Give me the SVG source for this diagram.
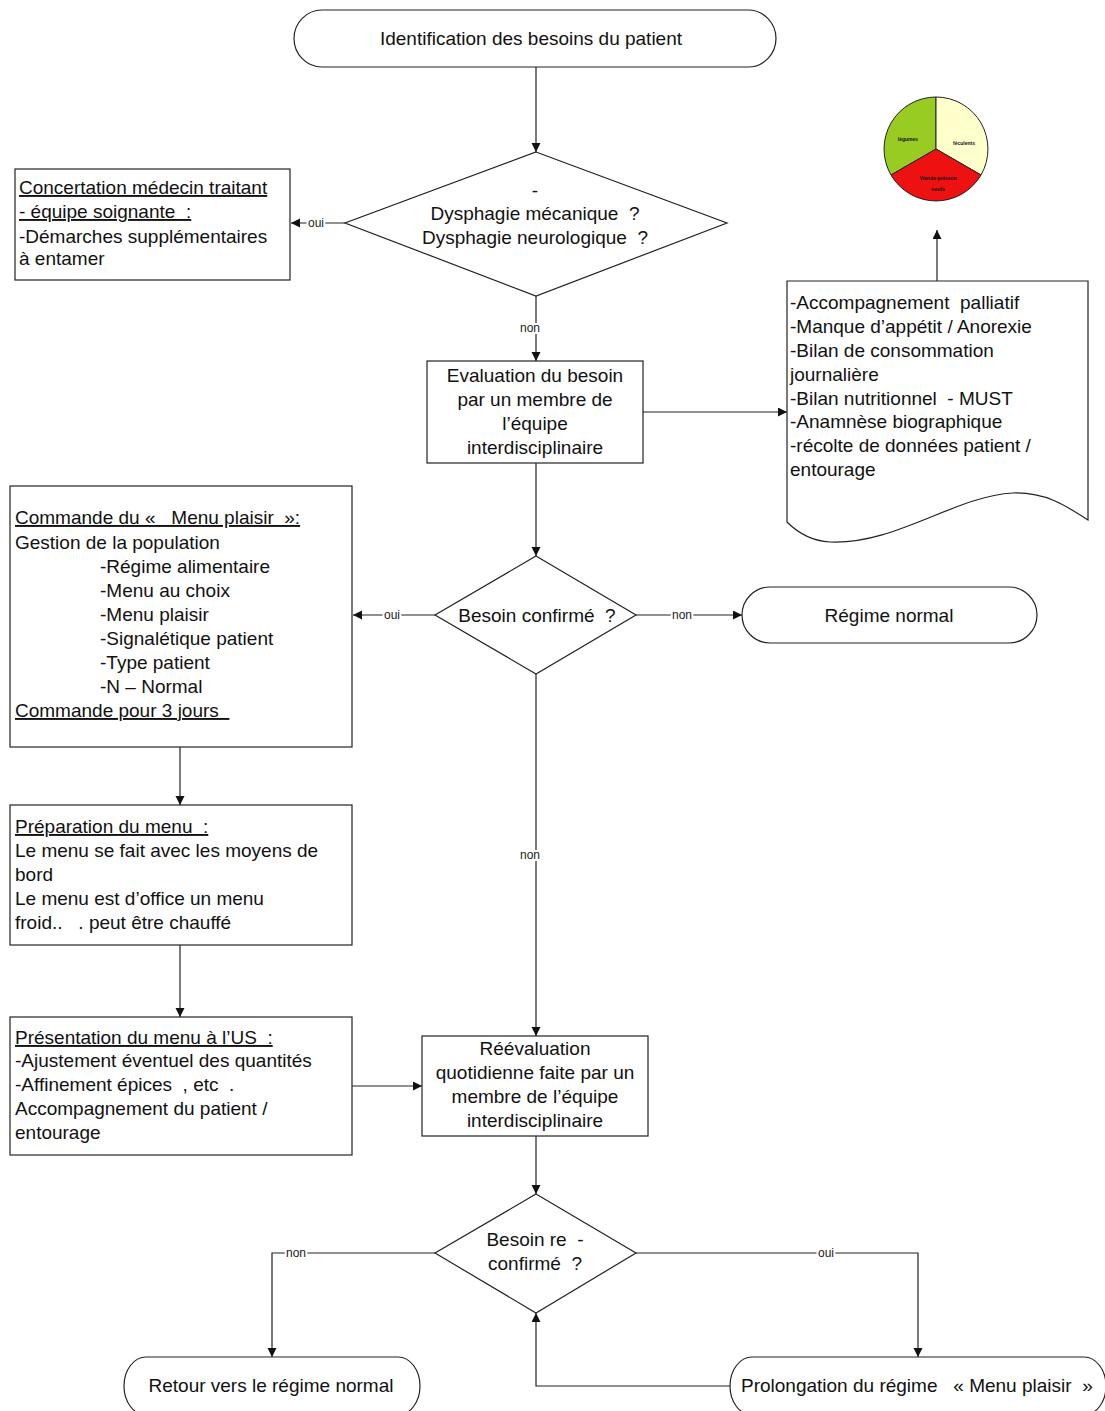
<svg xmlns="http://www.w3.org/2000/svg" width="1105" height="1411" viewBox="0 0 1105 1411" xml:space="preserve">
<defs>
<style>
.t{font-family:"Liberation Sans",Arial,sans-serif;font-size:19px;fill:#111;white-space:pre}
.c{text-anchor:middle}
.u{text-decoration:underline}
.lb{font-family:"Liberation Sans",Arial,sans-serif;font-size:12px;fill:#222;text-anchor:middle;paint-order:stroke;stroke:#fff;stroke-width:4px}
.sh{fill:#fff;stroke:#222;stroke-width:1.2}
.ln{fill:none;stroke:#222;stroke-width:1.2}
.pt{font-family:"Liberation Sans",Arial,sans-serif;font-size:5px;font-weight:bold;fill:#111;text-anchor:middle}
</style>
<marker id="ah" markerWidth="10" markerHeight="10" refX="9" refY="4.5" orient="auto" markerUnits="userSpaceOnUse">
<path d="M0,0 L9,4.5 L0,9 z" fill="#111"/>
</marker>
</defs>
<rect width="1105" height="1411" fill="#fff"/>

<g id="connectors">
<line class="ln" x1="536" y1="67" x2="536" y2="152" marker-end="url(#ah)"/>
<line class="ln" x1="345" y1="223" x2="291" y2="223" marker-end="url(#ah)"/>
<line class="ln" x1="536" y1="296" x2="536" y2="361" marker-end="url(#ah)"/>
<line class="ln" x1="643" y1="412" x2="787" y2="412" marker-end="url(#ah)"/>
<line class="ln" x1="937" y1="281" x2="937" y2="230" marker-end="url(#ah)"/>
<line class="ln" x1="536" y1="463" x2="536" y2="556" marker-end="url(#ah)"/>
<line class="ln" x1="435" y1="615" x2="353" y2="615" marker-end="url(#ah)"/>
<line class="ln" x1="636" y1="615" x2="742" y2="615" marker-end="url(#ah)"/>
<line class="ln" x1="180" y1="747" x2="180" y2="805" marker-end="url(#ah)"/>
<line class="ln" x1="180" y1="945" x2="180" y2="1017" marker-end="url(#ah)"/>
<line class="ln" x1="352" y1="1086" x2="422" y2="1086" marker-end="url(#ah)"/>
<line class="ln" x1="536" y1="674" x2="536" y2="1036" marker-end="url(#ah)"/>
<line class="ln" x1="536" y1="1136" x2="536" y2="1194" marker-end="url(#ah)"/>
<polyline class="ln" points="435,1253 272,1253 272,1357" marker-end="url(#ah)"/>
<polyline class="ln" points="636,1253 918,1253 918,1357" marker-end="url(#ah)"/>
<polyline class="ln" points="730,1386 536,1386 536,1313" marker-end="url(#ah)"/>
<text class="lb" x="316" y="227">oui</text>
<text class="lb" x="530" y="332">non</text>
<text class="lb" x="392" y="619">oui</text>
<text class="lb" x="682" y="619">non</text>
<text class="lb" x="530" y="859">non</text>
<text class="lb" x="296" y="1257">non</text>
<text class="lb" x="826" y="1257">oui</text>
</g>

<g id="start">
<path class="sh" d="M322,10 H748 A28,28.5 0 0 1 748,67 H322 A28,28.5 0 0 1 322,10 Z"/>
<text class="t c" x="531" y="45">Identification des besoins du patient</text>
</g>

<g id="dysphagie">
<polygon class="sh" points="536,152 727,223 536,296 345,223"/>
<text class="t c" x="535" y="197">-</text>
<text class="t c" x="535" y="220">Dysphagie mécanique  ?</text>
<text class="t c" x="535" y="244">Dysphagie neurologique  ?</text>
</g>

<g id="concertation">
<rect class="sh" x="15" y="169" width="275" height="111"/>
<text class="t u" x="19" y="194">Concertation médecin traitant</text>
<text class="t u" x="19" y="218">- équipe soignante  :</text>
<text class="t" x="19" y="243">-Démarches supplémentaires</text>
<text class="t" x="19" y="265">à entamer</text>
</g>

<g id="evaluation">
<rect class="sh" x="427" y="361" width="216" height="102"/>
<text class="t c" x="535" y="382">Evaluation du besoin</text>
<text class="t c" x="535" y="406">par un membre de</text>
<text class="t c" x="535" y="430">l’équipe</text>
<text class="t c" x="535" y="454">interdisciplinaire</text>
</g>

<g id="document">
<path class="sh" d="M787,281 H1088 V520 C1065,505 1045,492 1013,493 C955,496 895,545 830,542 C812,541 797,532 787,522 Z"/>
<text class="t" x="790" y="309">-Accompagnement  palliatif</text>
<text class="t" x="790" y="333">-Manque d’appétit / Anorexie</text>
<text class="t" x="790" y="357">-Bilan de consommation</text>
<text class="t" x="790" y="381">journalière</text>
<text class="t" x="790" y="405">-Bilan nutritionnel  - MUST</text>
<text class="t" x="790" y="428">-Anamnèse biographique</text>
<text class="t" x="790" y="452">-récolte de données patient /</text>
<text class="t" x="790" y="476">entourage</text>
</g>

<g id="pie">
<path d="M936,149 L936,97 A52,52 0 0 0 891,175 Z" fill="#99cc22" stroke="#222" stroke-width="1"/>
<path d="M936,149 L936,97 A52,52 0 0 1 981,175 Z" fill="#ffffcc" stroke="#222" stroke-width="1"/>
<path d="M936,149 L981,175 A52,52 0 0 1 891,175 Z" fill="#ee1111" stroke="#222" stroke-width="1"/>
<text class="pt" x="908" y="141">légumes</text>
<text class="pt" x="964" y="145">féculents</text>
<text class="pt" x="938" y="180">Viande-poisson</text>
<text class="pt" x="938" y="191">oeufs</text>
</g>

<g id="besoin-confirme">
<polygon class="sh" points="536,556 636,615 536,674 435,615"/>
<text class="t c" x="537" y="622">Besoin confirmé  ?</text>
</g>

<g id="regime-normal">
<path class="sh" d="M770,587 H1009 A28,28 0 0 1 1009,643 H770 A28,28 0 0 1 770,587 Z"/>
<text class="t c" x="889" y="622">Régime normal</text>
</g>

<g id="commande">
<rect class="sh" x="10" y="486" width="342" height="261"/>
<text class="t u" x="15" y="524">Commande du «   Menu plaisir  »:</text>
<text class="t" x="15" y="549">Gestion de la population</text>
<text class="t" x="100" y="573">-Régime alimentaire</text>
<text class="t" x="100" y="597">-Menu au choix</text>
<text class="t" x="100" y="621">-Menu plaisir</text>
<text class="t" x="100" y="645">-Signalétique patient</text>
<text class="t" x="100" y="669">-Type patient</text>
<text class="t" x="100" y="693">-N – Normal</text>
<text class="t u" x="15" y="717">Commande pour 3 jours  </text>
</g>

<g id="preparation">
<rect class="sh" x="10" y="805" width="342" height="140"/>
<text class="t u" x="15" y="833">Préparation du menu  :</text>
<text class="t" x="15" y="857">Le menu se fait avec les moyens de</text>
<text class="t" x="15" y="881">bord</text>
<text class="t" x="15" y="905">Le menu est d’office un menu</text>
<text class="t" x="15" y="929">froid..   . peut être chauffé</text>
</g>

<g id="presentation">
<rect class="sh" x="10" y="1017" width="342" height="138"/>
<text class="t u" x="15" y="1044">Présentation du menu à l’US  :</text>
<text class="t" x="15" y="1067">-Ajustement éventuel des quantités</text>
<text class="t" x="15" y="1091">-Affinement épices  , etc  .</text>
<text class="t" x="15" y="1115">Accompagnement du patient /</text>
<text class="t" x="15" y="1139">entourage</text>
</g>

<g id="reevaluation">
<rect class="sh" x="422" y="1036" width="226" height="100"/>
<text class="t c" x="535" y="1055">Réévaluation</text>
<text class="t c" x="535" y="1079">quotidienne faite par un</text>
<text class="t c" x="535" y="1103">membre de l’équipe</text>
<text class="t c" x="535" y="1127">interdisciplinaire</text>
</g>

<g id="besoin-reconfirme">
<polygon class="sh" points="536,1194 636,1253 536,1313 435,1253"/>
<text class="t c" x="535" y="1246">Besoin re  -</text>
<text class="t c" x="535" y="1270">confirmé  ?</text>
</g>

<g id="retour">
<path class="sh" d="M146,1357 H398 A22,29 0 0 1 398,1415 H146 A22,29 0 0 1 146,1357 Z"/>
<text class="t c" x="271" y="1392">Retour vers le régime normal</text>
</g>

<g id="prolongation">
<path class="sh" d="M752,1357 H1084 A22,29 0 0 1 1084,1415 H752 A22,29 0 0 1 752,1357 Z"/>
<text class="t" x="741" y="1392">Prolongation du régime   « Menu plaisir  »</text>
</g>
</svg>
